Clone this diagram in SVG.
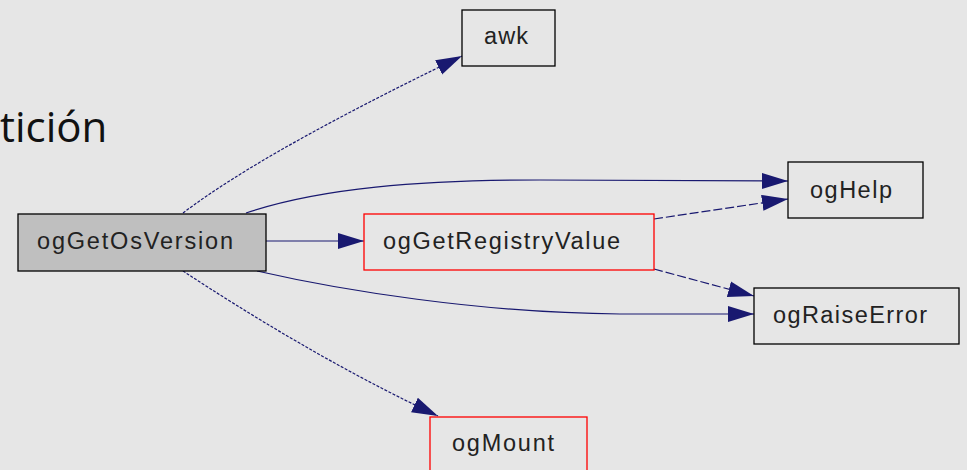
<svg xmlns="http://www.w3.org/2000/svg" width="967" height="470" viewBox="0 0 967 470">
<style>
.lbl{font-family:"Liberation Sans",Arial,sans-serif;font-size:23.5px;fill:#222;}
.box{stroke:#000;stroke-width:1.3;fill:none;}
.red{stroke:#ff0000;stroke-width:1.3;fill:none;}
.e{fill:none;stroke:#191970;stroke-width:1.2;}
.d{stroke-dasharray:3,1.5;}
.dd{stroke-dasharray:9,3;}
</style>
<defs>
<marker id="ah" markerUnits="userSpaceOnUse" markerWidth="28" markerHeight="20" viewBox="0 0 28 20" refX="26" refY="10" orient="auto">
<polygon points="0,2 26,10 0,18" fill="#191970"/>
</marker>
</defs>
<rect width="967" height="470" fill="#e6e6e6"/>
<text x="0" y="142" font-family="'Open Sans','Noto Sans',sans-serif" font-size="42" fill="#111">tición</text>
<g id="connectors">
<path class="e d" d="M183,213 C240,170 330,120 462,56" marker-end="url(#ah)"/>
<path class="e" d="M246,213 C320,188 420,180 540,180 L788,181" marker-end="url(#ah)"/>
<path class="e" d="M266,241 L364,241" marker-end="url(#ah)"/>
<path class="e dd" d="M654,219 L788,199" marker-end="url(#ah)"/>
<path class="e dd" d="M654,269 L754,296" marker-end="url(#ah)"/>
<path class="e" d="M257,271 C340,290 480,313 620,314 L754,314" marker-end="url(#ah)"/>
<path class="e d" d="M183,271 C250,315 340,370 438,416" marker-end="url(#ah)"/>
</g>
<g id="ogGetOsVersion">
<rect x="18" y="214" width="248" height="57" fill="#bfbfbf" stroke="#000" stroke-width="1.3"/>
<text class="lbl" x="37" y="249" textLength="196" lengthAdjust="spacing">ogGetOsVersion</text>
</g>
<g id="ogGetRegistryValue">
<rect class="red" x="364" y="214" width="290" height="56"/>
<text class="lbl" x="383" y="249" textLength="237" lengthAdjust="spacing">ogGetRegistryValue</text>
</g>
<g id="ogHelp">
<rect class="box" x="788" y="162" width="135" height="56"/>
<text class="lbl" x="810" y="198" textLength="82" lengthAdjust="spacing">ogHelp</text>
</g>
<g id="ogRaiseError">
<rect class="box" x="754" y="288" width="205" height="56"/>
<text class="lbl" x="773" y="323" textLength="154" lengthAdjust="spacing">ogRaiseError</text>
</g>
<g id="awk">
<rect class="box" x="462" y="10" width="93" height="56"/>
<text class="lbl" x="484" y="44" textLength="44" lengthAdjust="spacing">awk</text>
</g>
<g id="ogMount">
<rect class="red" x="430" y="417" width="157" height="60"/>
<text class="lbl" x="452" y="451" textLength="102" lengthAdjust="spacing">ogMount</text>
</g>
</svg>
